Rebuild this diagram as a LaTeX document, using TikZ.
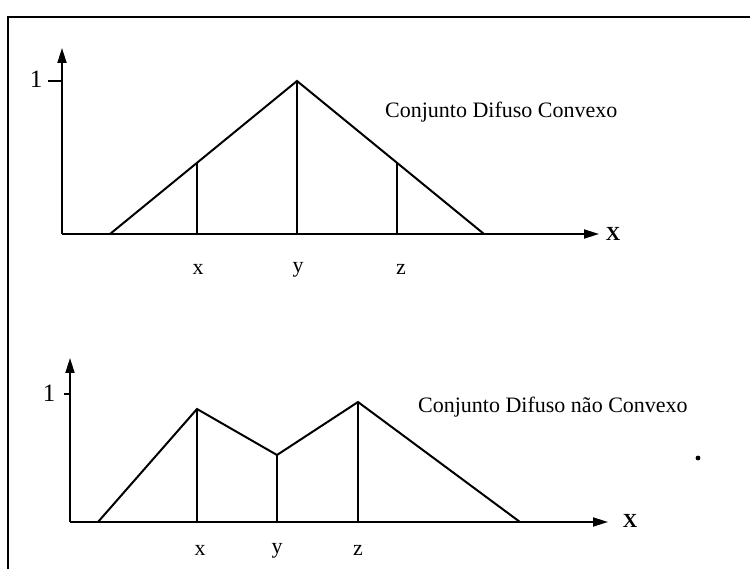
\documentclass[tikz,border=0pt]{standalone}
\usepackage{fontspec}
\setmainfont{Liberation Serif}
\usetikzlibrary{arrows.meta}
\begin{document}
\begin{tikzpicture}[x=1pt,y=-1pt,
  curve/.style={line width=2pt, line join=miter},
  axisline/.style={line width=1.8pt, -{Triangle[length=15pt,width=9pt]}},
  tickline/.style={line width=1.5pt},
  drop/.style={line width=1.5pt},
  frameline/.style={line width=2pt},
  lbl/.style={font=\fontsize{22}{24}\selectfont, inner sep=0pt},
  one/.style={font=\fontsize{25}{27}\selectfont, inner sep=0pt},
  axlbl/.style={font=\fontsize{20}{22}\selectfont\bfseries, inner sep=0pt},
  title/.style={font=\fontsize{22}{24}\selectfont, inner sep=0pt, anchor=base west}]
\useasboundingbox (0,0) rectangle (750,569);
% frame (cut off at right and bottom)
\coordinate (fTL) at (8,17);
\coordinate (fTR) at (750,17);
\coordinate (fBL) at (8,569);
\draw[frameline] (fTR) -- (fTL) -- (fBL);

% ---------- top plot ----------
\coordinate (o1) at (62,234);
\coordinate (ytop1) at (62,48);
\coordinate (xend1) at (599,234);
\coordinate (t1a) at (48,81);
\coordinate (t1b) at (62,81);
\draw[axisline] (o1) -- (ytop1);
\draw[axisline] (o1) -- (xend1);
\draw[tickline] (t1a) -- (t1b);
\node[one] (one1) at (36,79) {1};
\node[axlbl] (X1) at (613,234) {X};

\coordinate (s1) at (110,234);
\coordinate (p1) at (297,81);
\coordinate (e1) at (484,234);
\draw[curve] (s1) -- (p1) -- (e1);
\coordinate (ax1) at (197,162.8);
\coordinate (bx1) at (197,234);
\coordinate (by1) at (297,234);
\coordinate (az1) at (397,162.8);
\coordinate (bz1) at (397,234);
\draw[drop] (ax1) -- (bx1);
\draw[drop] (p1) -- (by1);
\draw[drop] (az1) -- (bz1);
\node[lbl] (lx1) at (198,269) {x};
\node[lbl] (ly1) at (298,270) {y};
\node[lbl] (lz1) at (401,269) {z};
\node[title] (tt1) at (385,118) {Conjunto Difuso Convexo};

% ---------- bottom plot ----------
\coordinate (o2) at (70,522);
\coordinate (ytop2) at (70,358);
\coordinate (xend2) at (608,522);
\coordinate (t2a) at (64,394);
\coordinate (t2b) at (70,394);
\draw[axisline] (o2) -- (ytop2);
\draw[axisline] (o2) -- (xend2);
\draw[tickline] (t2a) -- (t2b);
\node[one] (one2) at (49,393) {1};
\node[axlbl] (X2) at (630,521) {X};

\coordinate (s2) at (98,522);
\coordinate (p2) at (197,409);
\coordinate (v2) at (277,455);
\coordinate (q2) at (358,402);
\coordinate (e2) at (520,522);
\draw[curve] (s2) -- (p2) -- (v2) -- (q2) -- (e2);
\coordinate (bx2) at (197,522);
\coordinate (by2) at (277,522);
\coordinate (bz2) at (358,522);
\draw[drop] (p2) -- (bx2);
\draw[drop] (v2) -- (by2);
\draw[drop] (q2) -- (bz2);
\node[lbl] (lx2) at (200,550) {x};
\node[lbl] (ly2) at (277,551) {y};
\node[lbl] (lz2) at (358,550) {z};
\node[title] (tt2) at (418,413) {Conjunto Difuso não Convexo};

% stray dot
\fill (698,458) circle (2.4pt);
\end{tikzpicture}
\end{document}
